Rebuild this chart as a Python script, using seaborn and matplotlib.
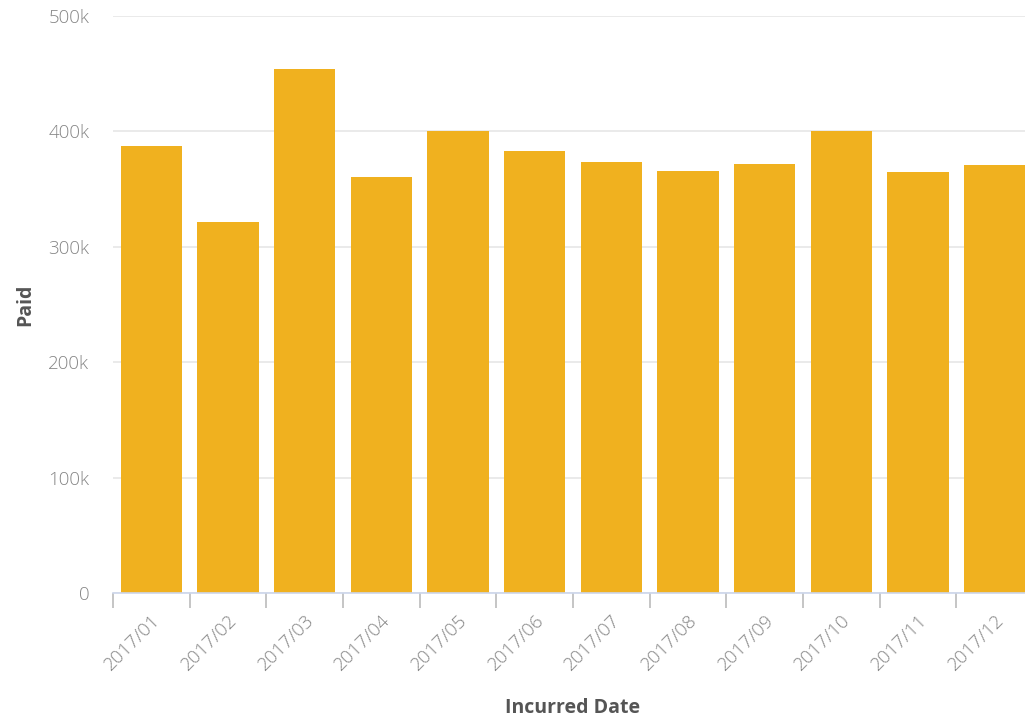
import matplotlib
matplotlib.use("Agg")
import matplotlib.pyplot as plt
import seaborn as sns
import pandas as pd
import numpy as np

months = ["2017/01", "2017/02", "2017/03", "2017/04", "2017/05", "2017/06",
          "2017/07", "2017/08", "2017/09", "2017/10", "2017/11", "2017/12"]
paid = [387000, 321500, 454000, 360500, 400000, 383000,
        373500, 365700, 371700, 400000, 364800, 370900]
y_ticks = [0, 100000, 200000, 300000, 400000, 500000]
y_tick_labels = ["0", "100k", "200k", "300k", "400k", "500k"]

sns.set_theme(style="white")
plt.rcParams['font.family'] = ['Open Sans', 'DejaVu Sans']

df = pd.DataFrame({"Incurred Date": months, "Paid": paid})

fig = plt.figure(figsize=(10.25, 7.18), dpi=100)
ax = fig.add_axes([113/1025, (718-593)/718, 920/1025, (593-16)/718])

sns.barplot(data=df, x="Incurred Date", y="Paid", color="#F0B11F",
            saturation=1, width=0.8, ax=ax, edgecolor="none")

ax.set_xlim(-0.5, len(months) - 0.5)
ax.set_ylim(0, 500000)
ax.set_yticks(y_ticks)
ax.set_yticklabels(y_tick_labels, color="#858585", fontsize=13.5, fontweight="light")
ax.yaxis.grid(True, color="#e6e6e6", linewidth=1.2)
ax.set_axisbelow(True)
ax.tick_params(axis="y", length=0, pad=17)

ax.set_xticks(np.arange(len(months)))
ax.set_xticklabels(months, rotation=45, ha="right", rotation_mode="anchor",
                   color="#858585", fontsize=13.5, fontweight="light")
ax.set_xticks(np.arange(len(months)) - 0.5, minor=True)
ax.tick_params(axis="x", which="major", bottom=False, length=0, pad=13)
ax.tick_params(axis="x", which="minor", bottom=True, length=11, width=1.3, color="#c0c0c0")

for s in ["top", "right", "left"]:
    ax.spines[s].set_visible(False)
ax.spines["bottom"].set_color("#ccd6eb")
ax.spines["bottom"].set_linewidth(1.2)

ax.set_xlabel("Incurred Date", fontsize=14, fontweight="bold", color="#555555")
ax.set_ylabel("Paid", fontsize=14, fontweight="bold", color="#555555")
ax.xaxis.label.set_va("center")
ax.yaxis.label.set_va("center")
ax.xaxis.set_label_coords((573-113)/920, -(708-593)/577)
ax.yaxis.set_label_coords(-(113-25)/920, (593-305)/577)

fig.savefig("out.png", dpi=100, facecolor="white")
